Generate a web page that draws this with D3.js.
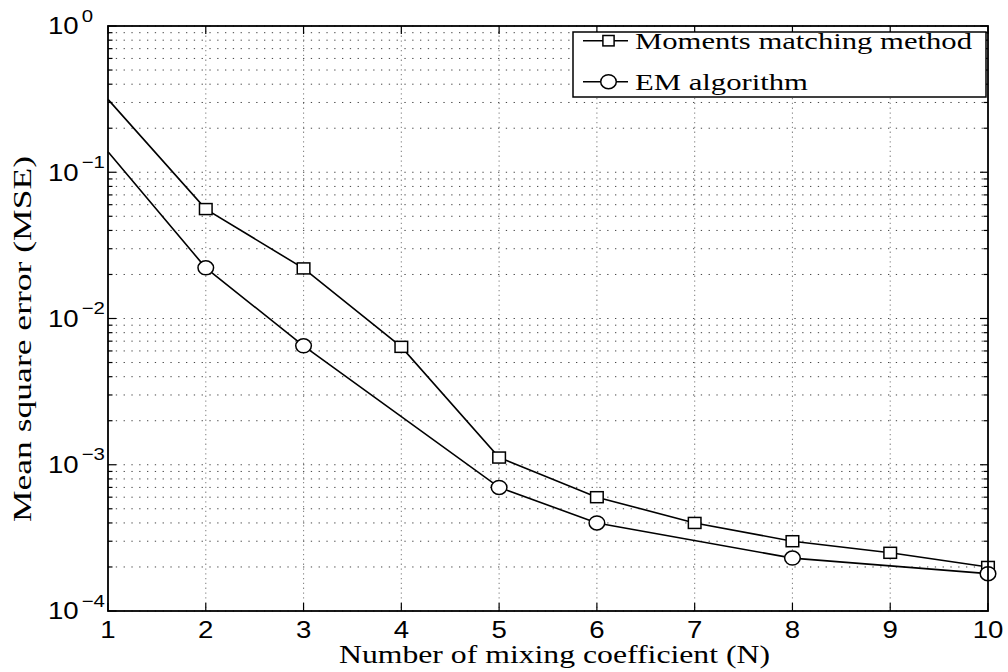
<!DOCTYPE html>
<html>
<head>
<meta charset="utf-8">
<script src="https://cdn.jsdelivr.net/npm/d3@7/dist/d3.min.js"></script>
<style>
  html, body { margin: 0; padding: 0; background: #fff; }
  svg { display: block; }
</style>
</head>
<body>
<svg id="chart" width="1008" height="672"></svg>
<script>
// Number of mixing coefficients on the x axis
const nValues = [1, 2, 3, 4, 5, 6, 7, 8, 9, 10];
// MSE of the moments matching method
const momentsMSE = [0.315, 0.056, 0.022, 0.0064, 0.00112, 0.0006, 0.0004, 0.0003, 0.00025, 0.0002];
// MSE of the EM algorithm (evaluated at fewer N)
const emN = [1, 2, 3, 5, 6, 8, 10];
const emMSE = [0.138, 0.0222, 0.0065, 0.0007, 0.0004, 0.00023, 0.00018];
// Tick labels
const xTicks = [1, 2, 3, 4, 5, 6, 7, 8, 9, 10];
const yDecades = [-4, -3, -2, -1, 0];
const legendLabels = ["Moments matching method", "EM algorithm"];
const xTitle = "Number of mixing coefficient (N)";
const yTitle = "Mean square error (MSE)";

const svg = d3.select("#chart");
const plot = { left: 108, right: 988, top: 26, bottom: 611 };

const x = d3.scaleLinear().domain([1, 10]).range([plot.left, plot.right]);
const y = d3.scaleLog().domain([1e-4, 1]).range([plot.bottom, plot.top]);

const sansFont = "'Liberation Sans', Arial, Helvetica, sans-serif";
const serifFont = "'Liberation Serif', 'Times New Roman', Times, serif";
const stretch = 1.2;

// minor + major log positions
const yGridVals = [];
yDecades.forEach(e => {
  if (e < 0) for (let k = 1; k <= 9; k++) yGridVals.push(k * Math.pow(10, e));
  else yGridVals.push(1);
});
const yMinorVals = yGridVals.filter(v => Math.abs(Math.log10(v) - Math.round(Math.log10(v))) > 1e-9);
const yMajorVals = yDecades.map(e => Math.pow(10, e));

// grid
const grid = svg.append("g").attr("class", "grid");
grid.selectAll("line.hg").data(yGridVals).join("line")
  .attr("class", "hg")
  .attr("x1", plot.left).attr("x2", plot.right)
  .attr("y1", d => y(d)).attr("y2", d => y(d))
  .attr("stroke", "#444").attr("stroke-width", 1)
  .attr("stroke-dasharray", "1.3,6.5");
grid.selectAll("line.vg").data(xTicks.filter(d => d > 1 && d < 10)).join("line")
  .attr("class", "vg")
  .attr("x1", d => x(d)).attr("x2", d => x(d))
  .attr("y1", plot.top).attr("y2", plot.bottom)
  .attr("stroke", "#888").attr("stroke-width", 1.1)
  .attr("stroke-dasharray", "1.3,3.5");

// ticks (inward, on all four sides)
const ticks = svg.append("g").attr("stroke", "#000").attr("stroke-width", 1.2);
xTicks.forEach(t => {
  ticks.append("line").attr("x1", x(t)).attr("x2", x(t)).attr("y1", plot.bottom).attr("y2", plot.bottom - 8);
  ticks.append("line").attr("x1", x(t)).attr("x2", x(t)).attr("y1", plot.top).attr("y2", plot.top + 8);
});
yMajorVals.forEach(v => {
  ticks.append("line").attr("x1", plot.left).attr("x2", plot.left + 8).attr("y1", y(v)).attr("y2", y(v));
  ticks.append("line").attr("x1", plot.right).attr("x2", plot.right - 8).attr("y1", y(v)).attr("y2", y(v));
});
yMinorVals.forEach(v => {
  ticks.append("line").attr("x1", plot.left).attr("x2", plot.left + 4.5).attr("y1", y(v)).attr("y2", y(v));
  ticks.append("line").attr("x1", plot.right).attr("x2", plot.right - 4.5).attr("y1", y(v)).attr("y2", y(v));
});

// series
const line = d3.line().x(d => x(d[0])).y(d => y(d[1]));
const momentsPts = nValues.map((n, i) => [n, momentsMSE[i]]);
const emPts = emN.map((n, i) => [n, emMSE[i]]);

const series = svg.append("g");
series.append("path").datum(momentsPts).attr("d", line)
  .attr("fill", "none").attr("stroke", "#000").attr("stroke-width", 1.6);
series.append("path").datum(emPts).attr("d", line)
  .attr("fill", "none").attr("stroke", "#000").attr("stroke-width", 1.6);

// markers start at N = 2
const sqW = 12.6, sqH = 11;
series.selectAll("rect.mk").data(momentsPts.filter(d => d[0] > 1)).join("rect")
  .attr("class", "mk")
  .attr("x", d => x(d[0]) - sqW / 2).attr("y", d => y(d[1]) - sqH / 2)
  .attr("width", sqW).attr("height", sqH)
  .attr("fill", "#fff").attr("stroke", "#000").attr("stroke-width", 1.5);
series.selectAll("ellipse.mk").data(emPts.filter(d => d[0] > 1)).join("ellipse")
  .attr("class", "mk")
  .attr("cx", d => x(d[0])).attr("cy", d => y(d[1]))
  .attr("rx", 7.8).attr("ry", 7)
  .attr("fill", "#fff").attr("stroke", "#000").attr("stroke-width", 1.5);

// frame
svg.append("rect")
  .attr("x", plot.left).attr("y", plot.top)
  .attr("width", plot.right - plot.left).attr("height", plot.bottom - plot.top)
  .attr("fill", "none").attr("stroke", "#000").attr("stroke-width", 1.8);

// x tick labels
const xLab = svg.append("g");
xTicks.forEach(t => {
  xLab.append("text")
    .attr("transform", `translate(${x(t)},638) scale(${stretch},1)`)
    .attr("text-anchor", "middle")
    .attr("font-family", sansFont).attr("font-size", 23)
    .text(t);
});

// y tick labels: 10^e
const yLab = svg.append("g");
yDecades.forEach(e => {
  const t = yLab.append("text")
    .attr("transform", `translate(48,${y(Math.pow(10, e)) + 8.3}) scale(${stretch},1)`)
    .attr("font-family", sansFont).attr("font-size", 23);
  t.append("tspan").text("10");
  t.append("tspan").attr("dx", 2.5).attr("dy", -12.8).attr("font-size", 17)
    .text(e < 0 ? "\u2212" + Math.abs(e) : String(e));
});

// axis titles
svg.append("text")
  .attr("x", 339).attr("y", 663)
  .attr("font-family", serifFont).attr("font-size", 26)
  .attr("textLength", 431).attr("lengthAdjust", "spacingAndGlyphs")
  .text(xTitle);
svg.append("text")
  .attr("transform", "translate(31,339) rotate(-90)")
  .attr("text-anchor", "middle")
  .attr("font-family", serifFont).attr("font-size", 26)
  .attr("textLength", 366).attr("lengthAdjust", "spacingAndGlyphs")
  .text(yTitle);

// legend
const lg = svg.append("g");
lg.append("rect").attr("x", 573).attr("y", 32).attr("width", 413).attr("height", 65)
  .attr("fill", "#fff").attr("stroke", "#000").attr("stroke-width", 1.5);
const rows = [40.7, 81.7];
const textWidths = [337, 173];
legendLabels.forEach((lab, i) => {
  lg.append("line").attr("x1", 583).attr("x2", 628).attr("y1", rows[i]).attr("y2", rows[i])
    .attr("stroke", "#000").attr("stroke-width", 1.6);
  if (i === 0) {
    lg.append("rect").attr("x", 608.5 - 5.6).attr("y", rows[i] - 5.2).attr("width", 11.2).attr("height", 10.4)
      .attr("fill", "#fff").attr("stroke", "#000").attr("stroke-width", 1.5);
  } else {
    lg.append("ellipse").attr("cx", 608.5).attr("cy", rows[i]).attr("rx", 7.8).attr("ry", 7)
      .attr("fill", "#fff").attr("stroke", "#000").attr("stroke-width", 1.5);
  }
  lg.append("text").attr("x", 635).attr("y", rows[i] + 8)
    .attr("font-family", serifFont).attr("font-size", 24)
    .attr("textLength", textWidths[i]).attr("lengthAdjust", "spacingAndGlyphs")
    .text(lab);
});
</script>
</body>
</html>
